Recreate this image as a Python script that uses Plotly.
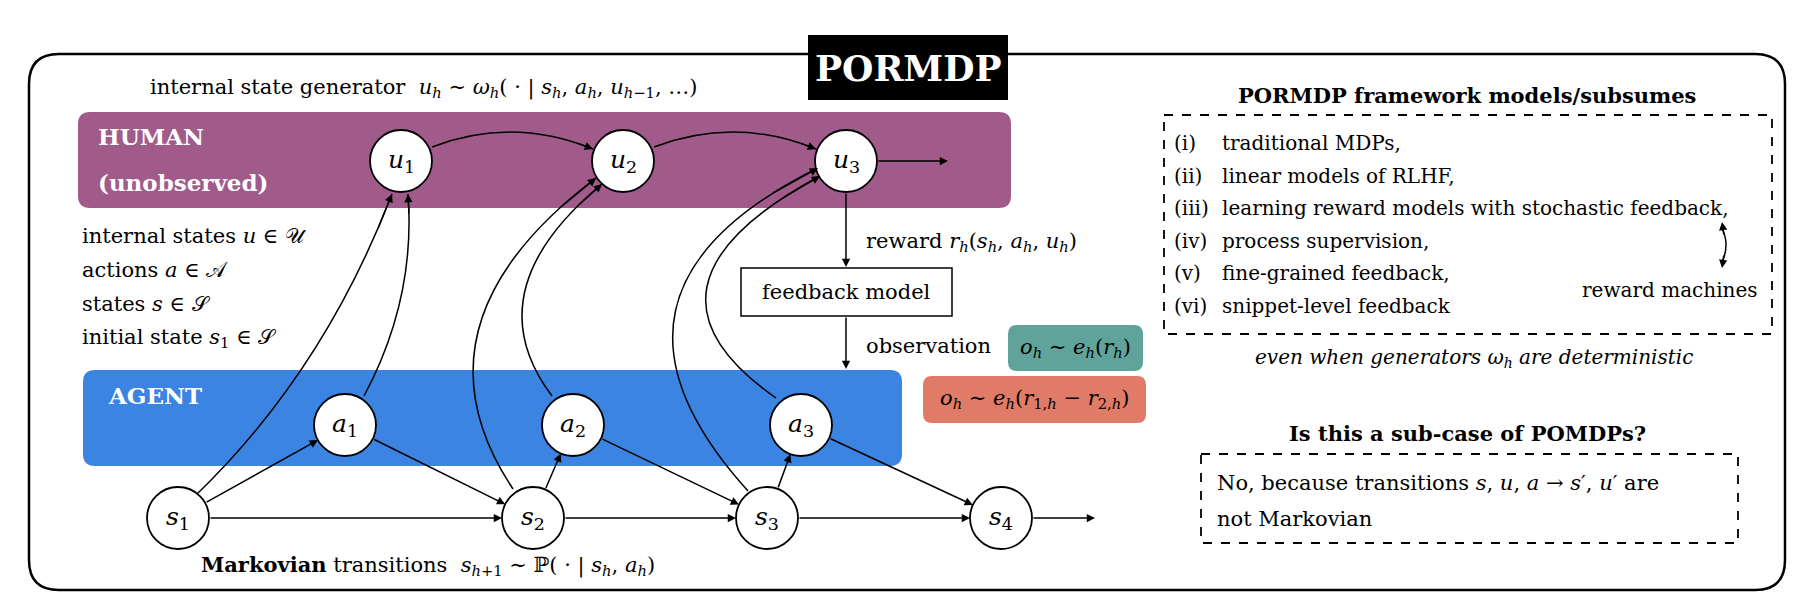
import math
import plotly.graph_objects as go

W, H = 1808, 606
FONT = "DejaVu Serif"

# ---- data ----
node_names = ["u1", "u2", "u3", "a1", "a2", "a3", "s1", "s2", "s3", "s4"]
node_labels = ["<i>u</i><sub>1</sub>", "<i>u</i><sub>2</sub>", "<i>u</i><sub>3</sub>",
               "<i>a</i><sub>1</sub>", "<i>a</i><sub>2</sub>", "<i>a</i><sub>3</sub>",
               "<i>s</i><sub>1</sub>", "<i>s</i><sub>2</sub>", "<i>s</i><sub>3</sub>", "<i>s</i><sub>4</sub>"]
node_x = [393, 615, 838, 337, 565, 793, 170, 525, 759, 993]
node_y = [153, 153, 153, 417, 417, 417, 510, 510, 510, 510]
R = 31

straight_edges = [("s1", "a1"), ("a1", "s2"), ("s1", "s2"), ("s2", "a2"), ("a2", "s3"),
                  ("s2", "s3"), ("s3", "a3"), ("a3", "s4"), ("s3", "s4")]
# curved edges: start, control, end
curved_edges = [
    ((187, 488), (315, 365), (384, 186)),
    ((356, 388), (408, 291), (400, 186)),
    ((505, 481), (395, 316), (588, 170)),
    ((544, 388), (465, 283), (594, 176)),
    ((740, 483), (560, 284), (810, 160)),
    ((768, 390), (608, 278), (812, 168)),
    ((424, 139), (504, 108), (585, 141)),
    ((646, 139), (727, 108), (808, 141)),
]

list_labels = ["(i)", "(ii)", "(iii)", "(iv)", "(v)", "(vi)"]
list_items = ["traditional MDPs,", "linear models of RLHF,",
              "learning reward models with stochastic feedback,", "process supervision,",
              "fine-grained feedback,", "snippet-level feedback"]
set_lines = ["internal states <i>u</i> ∈ 𝒰", "actions <i>a</i> ∈ 𝒜",
             "states <i>s</i> ∈ 𝒮", "initial state <i>s</i><sub>1</sub> ∈ 𝒮"]

pos = dict(zip(node_names, zip(node_x, node_y)))

fig = go.Figure()
shapes, ann = [], []


def rrect(x0, y0, x1, y1, r):
    return (f"M {x0+r} {y0} L {x1-r} {y0} Q {x1} {y0} {x1} {y0+r} L {x1} {y1-r} "
            f"Q {x1} {y1} {x1-r} {y1} L {x0+r} {y1} Q {x0} {y1} {x0} {y1-r} "
            f"L {x0} {y0+r} Q {x0} {y0} {x0+r} {y0} Z")


def arrow(x0, y0, x1, y1, w=1.5):
    ann.append(dict(x=x1, y=y1, ax=x0, ay=y0, xref="x", yref="y", axref="x", ayref="y",
                    text="", showarrow=True, arrowhead=2, arrowsize=1.1, arrowwidth=w,
                    arrowcolor="black"))


def text(x, y, t, size=21, anchor="left", color="black", **kw):
    ann.append(dict(x=x, y=y, xref="x", yref="y", text=t, showarrow=False, xanchor=anchor,
                    yanchor="middle", font=dict(family=FONT, size=size, color=color), **kw))


# outer frame
shapes.append(dict(type="path", path=rrect(21, 46, 1777, 582, 30), layer="below",
                   line=dict(color="black", width=2.5)))
# bands
shapes.append(dict(type="path", path=rrect(70, 104, 1003, 200, 12), layer="below",
                   fillcolor="#A15B8B", line=dict(width=0)))
shapes.append(dict(type="path", path=rrect(75, 362, 894, 458, 12), layer="below",
                   fillcolor="#3B84E1", line=dict(width=0)))
# PORMDP label box
shapes.append(dict(type="rect", x0=800, y0=27, x1=1000, y1=92, fillcolor="black",
                   line=dict(width=0), layer="above"))
text(900, 60, "<b>PORMDP</b>", size=36, anchor="center", color="white")

# straight edges
for a, b in straight_edges:
    (x0, y0), (x1, y1) = pos[a], pos[b]
    d = math.hypot(x1 - x0, y1 - y0)
    ux, uy = (x1 - x0) / d, (y1 - y0) / d
    arrow(x0 + ux * R, y0 + uy * R, x1 - ux * R, y1 - uy * R)
arrow(pos["s4"][0] + R, 510, 1087, 510)
arrow(pos["u3"][0] + R, 153, 940, 153)

# curved edges
for (p0, c, p1) in curved_edges:
    shapes.append(dict(type="path", path=f"M {p0[0]} {p0[1]} Q {c[0]} {c[1]} {p1[0]} {p1[1]}",
                       layer="below", line=dict(color="black", width=1.5)))
    t = 0.9
    bx = (1 - t) ** 2 * p0[0] + 2 * (1 - t) * t * c[0] + t * t * p1[0]
    by = (1 - t) ** 2 * p0[1] + 2 * (1 - t) * t * c[1] + t * t * p1[1]
    arrow(bx, by, p1[0], p1[1])

# nodes
fig.add_trace(go.Scatter(x=node_x, y=node_y, mode="markers",
                         marker=dict(size=2 * R, color="white", line=dict(color="black", width=1.8)),
                         hoverinfo="skip", showlegend=False))
for (x, y, l) in zip(node_x, node_y, node_labels):
    text(x, y, l, size=25, anchor="center")

# feedback path
arrow(838, 184, 838, 259)
shapes.append(dict(type="rect", x0=733, y0=260, x1=944, y1=308, line=dict(color="black", width=1.5),
                   fillcolor="white"))
text(838, 284, "feedback model", size=21, anchor="center")
arrow(838, 308, 838, 361)
text(856, 234, "reward <i>r<sub>h</sub></i>(<i>s<sub>h</sub></i>, <i>a<sub>h</sub></i>, <i>u<sub>h</sub></i>)", size=21)
text(856, 338, "observation", size=21)
shapes.append(dict(type="path", path=rrect(1000, 317, 1135, 363, 9), fillcolor="#5FA39B", line=dict(width=0)))
text(1067, 340, "<i>o<sub>h</sub></i> ∼ <i>e<sub>h</sub></i>(<i>r<sub>h</sub></i>)", size=21, anchor="center")
shapes.append(dict(type="path", path=rrect(915, 368, 1138, 415, 9), fillcolor="#E07B68", line=dict(width=0)))
text(1026, 391, "<i>o<sub>h</sub></i> ∼ <i>e<sub>h</sub></i>(<i>r</i><sub>1,<i>h</i></sub> − <i>r</i><sub>2,<i>h</i></sub>)", size=21, anchor="center")

# left texts
text(140, 80, "internal state generator  <i>u<sub>h</sub></i> ∼ <i>ω<sub>h</sub></i>( · | <i>s<sub>h</sub></i>, <i>a<sub>h</sub></i>, <i>u</i><sub><i>h</i>−1</sub>, …)", size=21)
text(88, 128, "<b>HUMAN</b>", size=23, color="white")
text(88, 174, "<b>(unobserved)</b>", size=23, color="white")
text(98, 387, "<b>AGENT</b>", size=23, color="white")
for i, s in enumerate(set_lines):
    text(72, 228 + i * 34, s, size=21)
text(191, 557, "<b>Markovian</b> transitions  <i>s</i><sub><i>h</i>+1</sub> ∼ ℙ( · | <i>s<sub>h</sub></i>, <i>a<sub>h</sub></i>)", size=21)

# right panel
text(1459, 87, "<b>PORMDP framework models/subsumes</b>", size=21, anchor="center")
shapes.append(dict(type="rect", x0=1156, y0=107, x1=1764, y1=326,
                   line=dict(color="black", width=1.8, dash="dash")))
for i, (lab, it) in enumerate(zip(list_labels, list_items)):
    yy = 135 + i * 32.6
    text(1164, yy, lab, size=20)
    text(1212, yy, it, size=20)
shapes.append(dict(type="path", path="M 1714 220 Q 1722 237 1714 254",
                   line=dict(color="black", width=1.5)))
arrow(1716, 228, 1714, 214)
arrow(1716, 246, 1714, 260)
text(1752, 282, "reward machines", size=20, anchor="right")
text(1466, 350, "<i>even when generators ω<sub>h</sub> are deterministic</i>", size=20, anchor="center")
text(1459, 425, "<b>Is this a sub-case of POMDPs?</b>", size=21, anchor="center")
shapes.append(dict(type="rect", x0=1193, y0=446, x1=1730, y1=535,
                   line=dict(color="black", width=1.8, dash="dash")))
text(1207, 475, "No, because transitions <i>s</i>, <i>u</i>, <i>a</i> → <i>s</i>′, <i>u</i>′ are", size=21)
text(1207, 511, "not Markovian", size=21)

fig.update_layout(
    width=W, height=H, margin=dict(l=0, r=0, t=0, b=0),
    paper_bgcolor="white", plot_bgcolor="white",
    xaxis=dict(range=[0, W], visible=False, fixedrange=True),
    yaxis=dict(range=[H, 0], visible=False, fixedrange=True),
    shapes=shapes, annotations=ann, showlegend=False,
)
fig.write_html("out.html")
